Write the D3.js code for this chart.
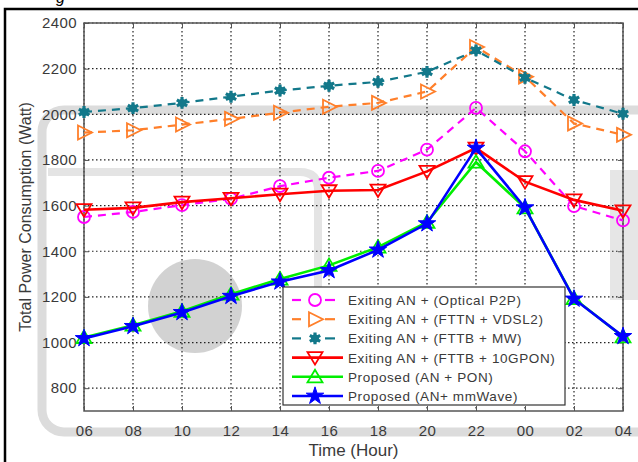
<!DOCTYPE html>
<html>
<head>
<meta charset="utf-8">
<script src="https://cdn.jsdelivr.net/npm/d3@7"></script>
<style>
  body { margin: 0; background: #fff; }
  text { font-family: Arial, "Liberation Sans", sans-serif; }
</style>
</head>
<body>
<svg id="chart" width="638" height="462"></svg>
<script>
const hours = ["06", "08", "10", "12", "14", "16", "18", "20", "22", "00", "02", "04"];
const yTicks = [800, 1000, 1200, 1400, 1600, 1800, 2000, 2200, 2400];

const opticalP2P = [1550, 1572, 1602, 1630, 1685, 1722, 1752, 1845, 2028, 1838, 1598, 1535];
const fttnVdsl2 = [1920, 1930, 1955, 1980, 2007, 2033, 2050, 2100, 2295, 2165, 1960, 1910];
const fttbMw = [2010, 2027, 2050, 2077, 2104, 2125, 2142, 2186, 2280, 2160, 2063, 2002];
const fttb10gpon = [1582, 1590, 1615, 1632, 1650, 1665, 1668, 1750, 1852, 1705, 1625, 1577];
const anPon = [1022, 1076, 1137, 1212, 1278, 1338, 1418, 1527, 1790, 1590, 1193, 1025];
const anMmwave = [1018, 1071, 1132, 1203, 1266, 1316, 1406, 1521, 1852, 1591, 1191, 1027];

const seriesNames = [
  "Exiting AN + (Optical P2P)",
  "Exiting AN + (FTTN + VDSL2)",
  "Exiting AN + (FTTB + MW)",
  "Exiting AN + (FTTB + 10GPON)",
  "Proposed (AN + PON)",
  "Proposed (AN+ mmWave)"
];

const series = [
  { name: seriesNames[0], values: opticalP2P, color: "#ff00ff", dash: "8,6", marker: "circle" },
  { name: seriesNames[1], values: fttnVdsl2, color: "#ff7f2a", dash: "8,6", marker: "tright" },
  { name: seriesNames[2], values: fttbMw, color: "#12788a", dash: "8,6", marker: "asterisk" },
  { name: seriesNames[3], values: fttb10gpon, color: "#ff0000", dash: null, marker: "tdown" },
  { name: seriesNames[4], values: anPon, color: "#00ee00", dash: null, marker: "tup" },
  { name: seriesNames[5], values: anMmwave, color: "#0000ff", dash: null, marker: "star" }
];

const svg = d3.select("#chart");
const margin = { left: 84, top: 23, right: 15, bottom: 51 };
const width = 638 - margin.left - margin.right;
const height = 462 - margin.top - margin.bottom;

// faint watermark behind the chart
const wm = svg.append("g").attr("fill", "none");
wm.append("rect").attr("x", 42).attr("y", 110).attr("width", 640).attr("height", 322)
  .attr("rx", 22).attr("stroke", "#dcdcdc").attr("stroke-width", 9);
wm.append("path").attr("d", "M48,172 L300,172 Q318,172 318,190 L318,300")
  .attr("stroke", "#e4e4e4").attr("stroke-width", 8);
wm.append("circle").attr("cx", 195).attr("cy", 306).attr("r", 47).attr("fill", "#d2d2d2");
wm.append("rect").attr("x", 610).attr("y", 170).attr("width", 28).attr("height", 130).attr("fill", "#e6e6e6");

// outer frame
svg.append("path").attr("d", "M5,462 L5,9 L638,9")
  .attr("fill", "none").attr("stroke", "#000").attr("stroke-width", 2.5);
svg.append("text").attr("x", 56).attr("y", 3).attr("font-family", "Liberation Serif, serif")
  .attr("font-style", "italic").attr("font-size", 16).text("g");

const g = svg.append("g").attr("transform", `translate(${margin.left},${margin.top})`);

const x = d3.scalePoint().domain(hours).range([0, width]);
const y = d3.scaleLinear().domain([700, 2400]).range([height, 0]);

// grid
g.append("g").selectAll("line").data(hours).join("line")
  .attr("x1", d => x(d)).attr("x2", d => x(d)).attr("y1", 0).attr("y2", height)
  .attr("stroke", "#222").attr("stroke-width", 1.2).attr("stroke-dasharray", "1.5,2.5");
g.append("g").selectAll("line").data(yTicks).join("line")
  .attr("x1", 0).attr("x2", width).attr("y1", d => y(d)).attr("y2", d => y(d))
  .attr("stroke", "#222").attr("stroke-width", 1.2).attr("stroke-dasharray", "1.5,2.5");

// axes
const xAxis = g.append("g").attr("transform", `translate(0,${height})`)
  .call(d3.axisBottom(x).tickSizeInner(-5).tickSizeOuter(0).tickPadding(14));
const xTop = g.append("g").call(d3.axisTop(x).tickSizeInner(-5).tickSizeOuter(0).tickFormat(""));
const yAxis = g.append("g")
  .call(d3.axisLeft(y).tickValues(yTicks).tickFormat(d3.format("d"))
    .tickSizeInner(-5).tickSizeOuter(0).tickPadding(7));
const yRight = g.append("g").attr("transform", `translate(${width},0)`)
  .call(d3.axisRight(y).tickValues(yTicks).tickSizeInner(-5).tickSizeOuter(0).tickFormat(""));
[xAxis, xTop, yAxis, yRight].forEach(a => {
  a.select(".domain").remove();
  a.selectAll(".tick line").attr("stroke", "#555");
  a.selectAll("text").attr("fill", "#3a3a3a").attr("font-size", 15)
    .attr("font-family", "Arial, sans-serif").attr("letter-spacing", 0.4);
});
g.append("rect").attr("width", width).attr("height", height)
  .attr("fill", "none").attr("stroke", "#555").attr("stroke-width", 1.5);

// axis titles
svg.append("text").attr("transform", `translate(31,${margin.top + height / 2}) rotate(-90)`)
  .attr("text-anchor", "middle").attr("font-size", 16).attr("fill", "#3a3a3a")
  .text("Total Power Consumption (Watt)");
svg.append("text").attr("x", margin.left + width / 2).attr("y", 456)
  .attr("text-anchor", "middle").attr("font-size", 17).attr("fill", "#3a3a3a")
  .text("Time (Hour)");

function drawMarker(sel, s) {
  if (s.marker === "circle") {
    sel.append("circle").attr("r", 6).attr("fill", "none").attr("stroke", s.color).attr("stroke-width", 1.8);
  } else if (s.marker === "tright") {
    sel.append("path").attr("d", "M-6,-7 L8,0 L-6,7 Z").attr("fill", "none")
      .attr("stroke", s.color).attr("stroke-width", 1.8);
  } else if (s.marker === "tdown") {
    sel.append("path").attr("d", "M-7.5,-5.5 L7.5,-5.5 L0,7 Z").attr("fill", "none")
      .attr("stroke", s.color).attr("stroke-width", 1.8);
  } else if (s.marker === "tup") {
    sel.append("path").attr("d", "M-7.5,5.5 L7.5,5.5 L0,-7 Z").attr("fill", "none")
      .attr("stroke", s.color).attr("stroke-width", 1.8);
  } else if (s.marker === "asterisk") {
    sel.append("path").attr("d", d3.symbol(d3.symbolAsterisk, 100)()).attr("fill", "none")
      .attr("stroke", s.color).attr("stroke-width", 3.2);
    sel.append("circle").attr("r", 4).attr("fill", s.color);
  } else if (s.marker === "star") {
    sel.append("path").attr("d", d3.symbol(d3.symbolStar, 95)()).attr("fill", s.color)
      .attr("stroke", s.color).attr("stroke-width", 1);
  }
}

const line = d3.line().x((d, i) => x(hours[i])).y(d => y(d));

series.forEach(s => {
  const sg = g.append("g");
  sg.append("path").datum(s.values).attr("d", line).attr("fill", "none")
    .attr("stroke", s.color).attr("stroke-width", s.dash ? 2.2 : 2.6)
    .attr("stroke-dasharray", s.dash);
  sg.selectAll("g.m").data(s.values).join("g").attr("class", "m")
    .attr("transform", (d, i) => `translate(${x(hours[i])},${y(d)})`)
    .each(function () { drawMarker(d3.select(this), s); });
});

// legend
const lg = svg.append("g").attr("transform", "translate(283,287)");
lg.append("rect").attr("width", 282).attr("height", 118).attr("fill", "#fff")
  .attr("stroke", "#333").attr("stroke-width", 1.2);
series.forEach((s, i) => {
  const row = lg.append("g").attr("transform", `translate(0,${13 + i * 19.2})`);
  if (s.dash) {
    row.append("line").attr("x1", 9).attr("x2", 18).attr("stroke", s.color).attr("stroke-width", 2.2);
    row.append("line").attr("x1", 42).attr("x2", 52).attr("stroke", s.color).attr("stroke-width", 2.2);
  } else {
    row.append("line").attr("x1", 9).attr("x2", 60).attr("stroke", s.color).attr("stroke-width", 2.6);
  }
  const mk = row.append("g").attr("transform", "translate(32,0)");
  drawMarker(mk, s);
  row.append("text").attr("x", 65).attr("y", 5).attr("font-size", 13.5)
    .attr("fill", "#3a3a3a").attr("letter-spacing", 0.6).text(s.name);
});
</script>
</body>
</html>
